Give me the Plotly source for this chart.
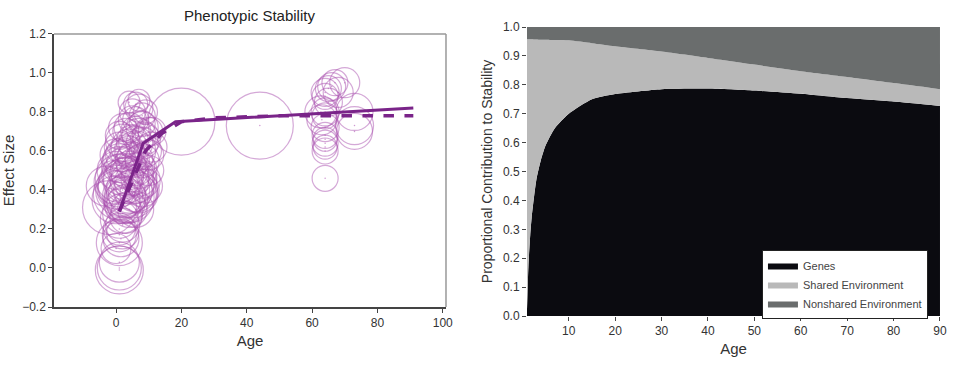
import plotly.graph_objects as go

# ---------------- Left panel data: Phenotypic Stability ----------------
bubble_age = [1, 1, 1, 1, 1.5, 1, 1, 2, 1, 0, 2,
              -2, 0, 1, 2, 3, 0, 1, 2, 4, 5, 3, 6, 2, 4, 3, 1, 5, 2, 4, 0, 3, -3,
              0, 1, 2, 3, 1, 2, 1, 0, 4, 5, 6, 7, 8, 9, 10, 8, 9, 3, 5, 7, 6, 2, 4,
              5, 6, 7, 8, 9, 10, 4, 3, 2, 6, 8, 11,
              5, 6, 7, 8, 4, 7, 9, 6, 5, 8,
              3, 4, 6, 7, 1, 2, 5, 8, 10, 9, 3, 6, 4, 7, 11, 2,
              20, 44,
              64, 64, 64, 64, 64, 64, 64, 63, 64, 64, 65, 64, 64, 65, 62.7,
              67, 66, 68, 70, 73, 73, 73]
bubble_eff = [-0.01, 0.0, 0.03, 0.13, 0.15, 0.17, 0.20, 0.22, 0.25, 0.10, 0.18,
              0.31, 0.35, 0.38, 0.40, 0.42, 0.44, 0.46, 0.48, 0.36, 0.38, 0.33, 0.40, 0.28, 0.30, 0.45, 0.42, 0.44, 0.37, 0.40, 0.40, 0.36, 0.42,
              0.50, 0.53, 0.56, 0.60, 0.62, 0.65, 0.68, 0.58, 0.50, 0.55, 0.60, 0.50, 0.55, 0.60, 0.58, 0.45, 0.42, 0.52, 0.48, 0.46, 0.52, 0.58, 0.62,
              0.65, 0.70, 0.68, 0.72, 0.66, 0.70, 0.72, 0.70, 0.72, 0.64, 0.64, 0.62,
              0.80, 0.84, 0.82, 0.78, 0.85, 0.86, 0.80, 0.76, 0.76, 0.74,
              0.34, 0.47, 0.44, 0.38, 0.55, 0.32, 0.57, 0.40, 0.50, 0.68, 0.26, 0.30, 0.60, 0.56, 0.70, 0.45,
              0.75, 0.73,
              0.46, 0.60, 0.62, 0.64, 0.66, 0.68, 0.72, 0.76, 0.78, 0.80, 0.85, 0.88, 0.90, 0.92, 0.80,
              0.95, 0.93, 0.90, 0.95, 0.80, 0.73, 0.70]
bubble_size = [48, 44, 40, 46, 36, 34, 32, 34, 38, 30, 32,
               54, 48, 52, 54, 56, 44, 48, 42, 50, 48, 38, 44, 40, 36, 46, 42, 44, 40, 46, 38, 40, 40,
               38, 36, 38, 32, 30, 34, 28, 32, 38, 34, 40, 36, 34, 32, 30, 36, 34, 40, 42, 36, 38, 34, 36,
               32, 30, 34, 32, 30, 28, 30, 26, 28, 34, 32, 30,
               26, 24, 28, 26, 22, 22, 24, 26, 28, 26,
               44, 40, 42, 38, 34, 36, 30, 34, 30, 26, 32, 36, 30, 28, 28, 38,
               67, 67,
               26, 26, 24, 26, 24, 26, 28, 30, 26, 28, 28, 26, 28, 26, 32,
               26, 28, 30, 30, 37, 38, 36]

fit_solid_age = [1, 8.3, 18.2, 91]
fit_solid_eff = [0.29, 0.64, 0.75, 0.82]
fit_dash_age = [1, 5, 9, 14, 20, 30, 50, 70, 91]
fit_dash_eff = [0.29, 0.45, 0.60, 0.69, 0.75, 0.77, 0.78, 0.78, 0.78]

left_xticks = [0, 20, 40, 60, 80, 100]
left_yticks = [-0.2, 0.0, 0.2, 0.4, 0.6, 0.8, 1.0, 1.2]

# ---------------- Right panel data: proportional contributions ----------------
age = [1, 1.3, 1.7, 2, 3, 4, 5, 7, 10, 15, 20, 30, 40, 50, 60, 70, 80, 90]
genes = [0.02, 0.17, 0.28, 0.34, 0.47, 0.54, 0.59, 0.65, 0.70, 0.75, 0.768, 0.785, 0.787, 0.780, 0.769, 0.754, 0.742, 0.727]
genes_plus_shared = [0.958, 0.958, 0.958, 0.958, 0.957, 0.956, 0.956, 0.955, 0.954, 0.944, 0.933, 0.915, 0.893, 0.870, 0.847, 0.827, 0.806, 0.785]
shared = [round(t - g, 4) for t, g in zip(genes_plus_shared, genes)]
nonshared = [round(1 - t, 4) for t in genes_plus_shared]

right_xticks = [10, 20, 30, 40, 50, 60, 70, 80, 90]
right_yticks = [0.0, 0.1, 0.2, 0.3, 0.4, 0.5, 0.6, 0.7, 0.8, 0.9, 1.0]

FONT = "Liberation Sans, Arial, sans-serif"
fig = go.Figure()

fig.add_trace(go.Scatter(
    x=bubble_age, y=bubble_eff, mode="markers",
    marker=dict(size=bubble_size, color="rgba(0,0,0,0)",
                line=dict(color="rgba(170,80,175,0.7)", width=1.2)),
    showlegend=False, xaxis="x", yaxis="y", hoverinfo="skip"))
fig.add_trace(go.Scatter(
    x=bubble_age, y=bubble_eff, mode="markers",
    marker=dict(size=1.5, color="rgba(175,85,180,0.6)"),
    showlegend=False, xaxis="x", yaxis="y", hoverinfo="skip"))
fig.add_trace(go.Scatter(
    x=fit_dash_age, y=fit_dash_eff, mode="lines",
    line=dict(color="#7a2489", width=3.5, dash="dash"),
    showlegend=False, xaxis="x", yaxis="y"))
fig.add_trace(go.Scatter(
    x=fit_solid_age, y=fit_solid_eff, mode="lines",
    line=dict(color="#7a2489", width=3),
    showlegend=False, xaxis="x", yaxis="y"))

for name, vals, col in [("Genes", genes, "#0b0b10"),
                        ("Shared Environment", shared, "#b9b9b9"),
                        ("Nonshared Environment", nonshared, "#6a6d6d")]:
    fig.add_trace(go.Scatter(
        x=age, y=vals, name=name, mode="lines", stackgroup="one",
        line=dict(width=0, color=col, shape="spline", smoothing=0.6),
        fillcolor=col, xaxis="x2", yaxis="y2"))

axis_common = dict(showgrid=False, zeroline=False, ticks="outside", ticklen=4, automargin=False,
                   tickcolor="#444", tickfont=dict(family=FONT, size=12, color="#333"))

fig.update_layout(
    width=954, height=369,
    margin=dict(l=0, r=0, t=0, b=0),
    paper_bgcolor="white", plot_bgcolor="white",
    font=dict(family=FONT, color="#333"),
    xaxis=dict(domain=[0.0566, 0.4675], range=[-19, 101], tickvals=left_xticks,
               showline=True, linecolor="#444", linewidth=1.5,
               title=dict(text="Age", font=dict(size=15), standoff=6), **axis_common),
    yaxis=dict(domain=[0.168, 0.908], range=[-0.2, 1.2], tickvals=left_yticks, tickformat=".1f",
               showline=True, linecolor="#444", linewidth=1.5,
               title=dict(text="Effect Size", font=dict(size=15), standoff=6), **axis_common),
    xaxis2=dict(domain=[0.5524, 0.9853], range=[1, 90], tickvals=right_xticks, anchor="y2",
                showline=False,
                title=dict(text="Age", font=dict(size=15), standoff=6), **axis_common),
    yaxis2=dict(domain=[0.1436, 0.9268], range=[0, 1], tickvals=right_yticks, tickformat=".1f", anchor="x2",
                showline=False,
                title=dict(text="Proportional Contribution to Stability", font=dict(size=14), standoff=6),
                **axis_common),
    legend=dict(x=0.7987, y=0.3225, xanchor="left", yanchor="top",
                bgcolor="white", bordercolor="#222", borderwidth=1,
                font=dict(family=FONT, size=11, color="#444"),
                tracegroupgap=0, itemwidth=30, traceorder="normal"),
    annotations=[dict(text="Phenotypic Stability", x=0.262, y=0.957, xref="paper", yref="paper",
                      xanchor="center", yanchor="middle",
                      showarrow=False, font=dict(family=FONT, size=15, color="#222"))],
    shapes=[
        dict(type="line", xref="paper", yref="paper", x0=0.0566, x1=0.4675, y0=0.908, y1=0.908,
             line=dict(color="#999", width=1.5)),
        dict(type="line", xref="paper", yref="paper", x0=0.4675, x1=0.4675, y0=0.168, y1=0.908,
             line=dict(color="#999", width=1.5)),
    ],
)

fig.write_html("out.html", config={"displayModeBar": False},
               post_script="document.body.style.margin='0';document.body.style.overflow='hidden';")
